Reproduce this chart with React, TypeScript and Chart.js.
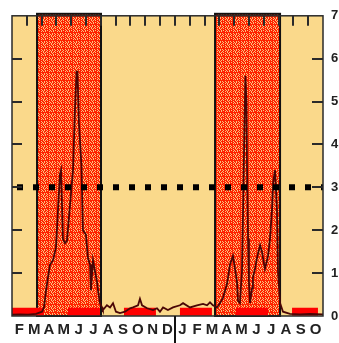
import React, { useEffect, useRef } from 'react';
import { Chart, registerables } from 'chart.js';
Chart.register(...registerables);

// Month labels (Feb of year 1 through Oct of year 2)
const monthLabels = ['F', 'M', 'A', 'M', 'J', 'J', 'A', 'S', 'O', 'N', 'D', 'J', 'F', 'M', 'A', 'M', 'J', 'J', 'A', 'S', 'O'];

// Series: position in months from start of Feb (year 1), value
const seriesMonths = [
  0.00, 0.54, 1.08, 1.62, 2.03, 2.16, 2.30, 2.43, 2.57, 2.77, 2.97, 3.11, 3.24, 3.31, 3.44, 3.58, 3.71, 3.92, 4.12, 4.25,
  4.36, 4.42, 4.52, 4.69, 4.79, 4.99, 5.13, 5.27, 5.33, 5.47, 5.60, 5.74, 5.81, 5.94, 6.08,
  6.14, 6.41, 6.62, 6.82, 7.02, 7.29, 7.63, 7.97, 8.17, 8.51, 8.64, 8.78, 9.12, 9.52, 9.79, 9.99, 10.20, 10.53, 10.87,
  11.34, 11.55, 12.02, 12.49, 12.90, 13.17, 13.37, 13.57, 13.84,
  14.05, 14.25, 14.52, 14.72, 14.92, 15.06, 15.19, 15.26, 15.39, 15.53, 15.60, 15.70, 15.76, 15.83, 15.87, 15.94, 16.00,
  16.07, 16.21, 16.27, 16.41, 16.54, 16.75, 16.88, 16.95, 17.08, 17.29, 17.42, 17.56, 17.63, 17.76, 17.89, 17.96, 18.10,
  18.30, 18.77, 19.45, 20.12, 21.00,
];
const seriesValues = [
  0.03, 0.04, 0.03, 0.05, 0.10, 0.20, 0.60, 0.90, 1.20, 1.30, 1.60, 2.50, 3.30, 3.40, 1.80, 1.70, 1.75, 2.60, 3.40, 4.80,
  5.70, 5.70, 4.50, 3.50, 2.00, 1.90, 1.35, 1.20, 0.60, 1.30, 1.05, 0.80, 0.60, 0.30, 0.20,
  0.14, 0.25, 0.20, 0.30, 0.10, 0.07, 0.10, 0.18, 0.20, 0.25, 0.40, 0.25, 0.18, 0.14, 0.18, 0.10, 0.20, 0.14, 0.20,
  0.25, 0.30, 0.20, 0.25, 0.28, 0.25, 0.32, 0.25, 0.20,
  0.30, 0.43, 0.75, 1.20, 1.40, 1.10, 0.80, 0.35, 0.30, 1.05, 2.40, 4.50, 5.60, 5.00, 3.50, 1.80, 0.80,
  0.30, 0.65, 0.90, 1.10, 1.35, 1.65, 1.50, 1.35, 1.10, 1.40, 1.80, 2.50, 3.10, 3.40, 2.50, 1.05, 0.30,
  0.10, 0.05, 0.04, 0.05, 0.04,
];

// Shaded seasons (months)
const boxStarts = [1.69, 13.71];
const boxEnds = [6.01, 18.10];

// Red bars along the bottom (months)
const barStarts = [0, 3.78, 7.56, 11.34, 15.12, 18.91];
const barEnds = [2.16, 5.94, 9.72, 13.5, 17.29, 20.66];
const barLevel = 0.1;

const thresholdValue = 3;
const yearBreakMonth = 11;
const yMin = 0;
const yMax = 7;
const xMin = 0;
const xMax = 21;

export default function App() {
  const ref = useRef<HTMLCanvasElement>(null);

  useEffect(() => {
    const canvas = ref.current!;
    const tile = document.createElement('canvas');
    tile.width = 8;
    tile.height = 8;
    const tctx = tile.getContext('2d')!;
    const rows = [
      'RRRRRRRR',
      'RyRRyRyR',
      'RRyRyRRy',
      'RyRyRRyR',
      'RRRyRyRy',
      'RyRRyRRR',
      'RRyRRyRy',
      'RyRyRyRR',
    ];
    rows.forEach((row, j) => {
      for (let i = 0; i < row.length; i++) {
        tctx.fillStyle = row[i] === 'R' ? '#FF2200' : '#F9C27E';
        tctx.fillRect(i, j, 1, 1);
      }
    });
    const pattern = canvas.getContext('2d')!.createPattern(tile, 'repeat')!;

    const seriesData = seriesMonths.map((m, i) => ({ x: m, y: seriesValues[i] }));
    const barData: { x: number; y: number | null }[] = [];
    barStarts.forEach((s, i) => {
      barData.push({ x: s, y: barLevel }, { x: barEnds[i], y: barLevel });
      if (i < barStarts.length - 1) barData.push({ x: (barEnds[i] + barStarts[i + 1]) / 2, y: null });
    });

    const decor = {
      id: 'decor',
      beforeDatasetsDraw(chart: any) {
        const { ctx, chartArea: a, scales } = chart;
        const x = scales.x;
        ctx.save();
        ctx.fillStyle = '#FAD98B';
        ctx.fillRect(a.left, a.top, a.right - a.left, a.bottom - a.top);
        boxStarts.forEach((s, i) => {
          const l = x.getPixelForValue(s);
          const r = x.getPixelForValue(boxEnds[i]);
          ctx.fillStyle = pattern;
          ctx.fillRect(l, a.top - 2, r - l, a.bottom - a.top + 2);
          ctx.strokeStyle = '#111';
          ctx.lineWidth = 2;
          ctx.strokeRect(l, a.top - 2, r - l, a.bottom - a.top + 2);
        });
        ctx.restore();
      },
      afterDatasetsDraw(chart: any) {
        const { ctx, chartArea: a, scales } = chart;
        const x = scales.x;
        const y = scales.y;
        ctx.save();
        ctx.strokeStyle = '#2a2a2a';
        ctx.lineWidth = 2;
        // top month ticks
        for (let m = xMin + 1; m < xMax; m++) {
          const px = Math.round(x.getPixelForValue(m));
          ctx.beginPath();
          ctx.moveTo(px, a.top);
          ctx.lineTo(px, a.top + 10);
          ctx.stroke();
        }
        // left & right value ticks
        for (let v = yMin + 1; v < yMax; v++) {
          const py = Math.round(y.getPixelForValue(v));
          ctx.beginPath();
          ctx.moveTo(a.left, py);
          ctx.lineTo(a.left + 10, py);
          ctx.moveTo(a.right, py);
          ctx.lineTo(a.right - 11, py);
          ctx.stroke();
        }
        // frame
        ctx.lineWidth = 1.5;
        ctx.strokeRect(a.left, a.top, a.right - a.left, a.bottom - a.top);
        // year separator
        const yb = Math.round(x.getPixelForValue(yearBreakMonth));
        ctx.lineWidth = 2;
        ctx.strokeStyle = '#111';
        ctx.beginPath();
        ctx.moveTo(yb, a.bottom);
        ctx.lineTo(yb, chart.height);
        ctx.stroke();
        ctx.restore();
      },
    };

    const chart = new Chart(canvas, {
      type: 'line',
      data: {
        datasets: [
          {
            data: [{ x: xMin, y: thresholdValue }, { x: xMax, y: thresholdValue }],
            borderColor: '#000',
            borderWidth: 6,
            borderDash: [6, 10],
            borderDashOffset: 11,
            borderCapStyle: 'butt',
            pointRadius: 0,
          },
          {
            data: seriesData,
            borderColor: '#4a0606',
            borderWidth: 1.8,
            pointRadius: 0,
            tension: 0,
          },
          {
            data: barData,
            borderColor: '#FF0000',
            borderWidth: 8,
            borderCapStyle: 'butt',
            pointRadius: 0,
            spanGaps: false,
          },
        ],
      },
      options: {
        animation: false,
        responsive: false,
        layout: { padding: { left: 12, top: 8, right: 0, bottom: 0 } },
        plugins: { legend: { display: false }, tooltip: { enabled: false } },
        scales: {
          x: {
            type: 'linear',
            min: xMin,
            max: xMax,
            grid: { display: false, drawTicks: false },
            border: { display: false },
            afterBuildTicks: (s: any) => {
              s.ticks = monthLabels.map((_, i) => ({ value: i + 0.5 }));
            },
            afterFit: (s: any) => {
              s.height = 27;
            },
            ticks: {
              autoSkip: false,
              maxRotation: 0,
              padding: 5,
              color: '#222',
              font: { family: '"Liberation Sans", Arial, sans-serif', size: 15, weight: 'bold' },
              callback: (_v: any, i: number) => monthLabels[i],
            },
          },
          y: {
            type: 'linear',
            position: 'right',
            min: yMin,
            max: yMax,
            grid: { display: false, drawTicks: false },
            border: { display: false },
            afterFit: (s: any) => {
              s.width = 16;
            },
            ticks: {
              stepSize: 1,
              padding: 8,
              color: '#222',
              font: { family: '"Liberation Sans", Arial, sans-serif', size: 13, weight: 'bold' },
            },
          },
        },
      },
      plugins: [decor],
    } as any);
    return () => chart.destroy();
  }, []);

  return (
    <div style={{ position: 'absolute', left: 0, top: 0, width: 339, height: 343, background: '#fff' }}>
      <canvas ref={ref} width={339} height={343} style={{ display: 'block' }} />
    </div>
  );
}
